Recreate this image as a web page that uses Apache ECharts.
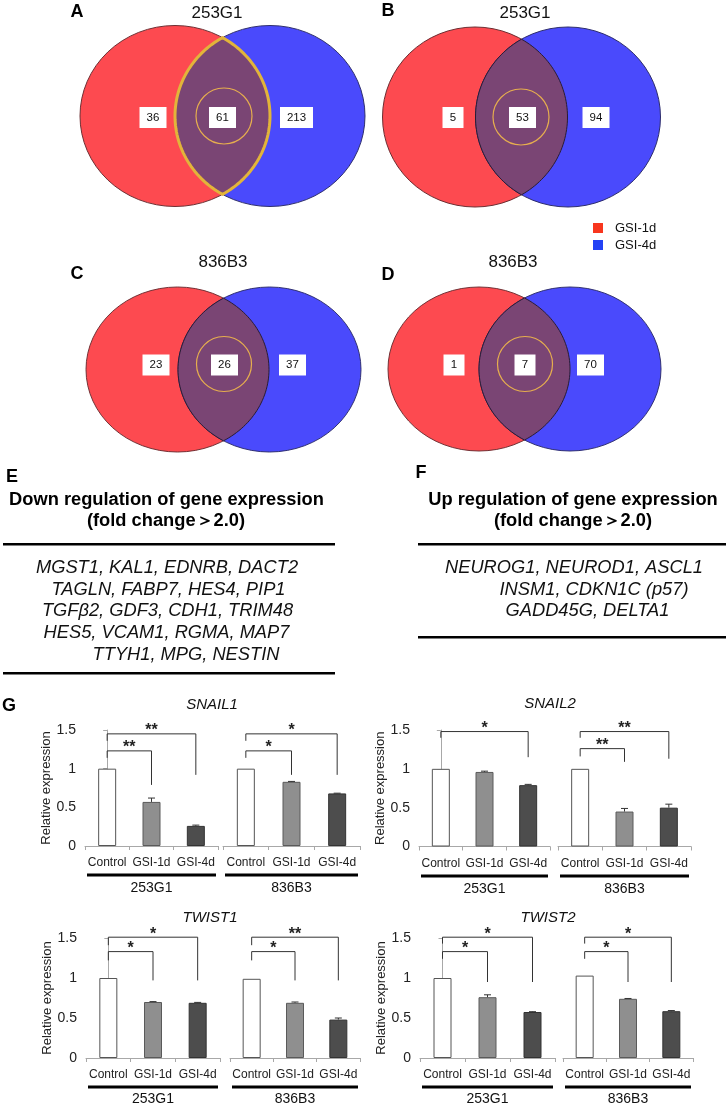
<!DOCTYPE html>
<html><head><meta charset="utf-8">
<script src="https://cdn.jsdelivr.net/npm/echarts@6/dist/echarts.min.js"></script>
<style>html,body{margin:0;padding:0;background:#fff}#c{width:726px;height:1103px}</style>
</head><body><div id="c"></div>
<script>
// ---------- DATA ----------
const vennLetters = ['A', 'B', 'C', 'D'];
const vennTitles = ['253G1', '253G1', '836B3', '836B3'];
const vennOnly1d = [36, 5, 23, 1];
const vennBoth = [61, 53, 26, 7];
const vennOnly4d = [213, 94, 37, 70];
const legendNames = ['GSI-1d', 'GSI-4d'];

const downTitle = 'Down regulation of gene expression';
const upTitle = 'Up regulation of gene expression';
const foldText = '(fold change\uFF1E2.0)';
const downGenes = ['MGST1, KAL1, EDNRB, DACT2', 'TAGLN, FABP7, HES4, PIP1', 'TGF\u03B22, GDF3, CDH1, TRIM48', 'HES5, VCAM1, RGMA, MAP7', 'TTYH1, MPG, NESTIN'];
const upGenes = ['NEUROG1, NEUROD1, ASCL1', 'INSM1, CDKN1C (p57)', 'GADD45G, DELTA1'];

const categories = ['Control', 'GSI-1d', 'GSI-4d'];
const cellLines = ['253G1', '836B3'];
const geneNames = ['SNAIL1', 'SNAIL2', 'TWIST1', 'TWIST2'];
const yTicks = [0, 0.5, 1, 1.5];

const snail1_253G1 = [1.00, 0.57, 0.26];
const snail1_253G1_err = [0, 0.05, 0.01];
const snail1_836B3 = [1.00, 0.83, 0.68];
const snail1_836B3_err = [0, 0.005, 0.003];
const snail2_253G1 = [1.00, 0.96, 0.79];
const snail2_253G1_err = [0, 0.01, 0.01];
const snail2_836B3 = [1.00, 0.45, 0.50];
const snail2_836B3_err = [0, 0.04, 0.045];
const twist1_253G1 = [1.00, 0.70, 0.69];
const twist1_253G1_err = [0, 0.005, 0.005];
const twist1_836B3 = [0.99, 0.69, 0.48];
const twist1_836B3_err = [0, 0.01, 0.02];
const twist2_253G1 = [1.00, 0.76, 0.575];
const twist2_253G1_err = [0, 0.03, 0.004];
const twist2_836B3 = [1.03, 0.74, 0.585];
const twist2_836B3_err = [0, 0.004, 0.008];

// significance brackets: [fromIdx, toIdx, topY, leftLegEndY, rightLegEndY, stars]
const snail1_253G1_sig = [[0, 2, 1.45, 1.36, 0.92, '**'], [0, 1, 1.23, 1.14, 0.79, '**']];
const snail1_836B3_sig = [[0, 2, 1.45, 1.36, 0.92, '*'], [0, 1, 1.23, 1.14, 0.92, '*']];
const snail2_253G1_sig = [[0, 2, 1.48, 1.40, 1.15, '*']];
const snail2_836B3_sig = [[0, 2, 1.48, 1.40, 1.13, '**'], [0, 1, 1.26, 1.16, 1.09, '**']];
const twist1_253G1_sig = [[0, 2, 1.51, 1.41, 0.97, '*'], [0, 1, 1.33, 1.22, 0.97, '*']];
const twist1_836B3_sig = [[0, 2, 1.51, 1.41, 0.97, '**'], [0, 1, 1.33, 1.22, 0.97, '*']];
const twist2_253G1_sig = [[0, 2, 1.51, 1.43, 0.95, '*'], [0, 1, 1.33, 1.24, 0.95, '*']];
const twist2_836B3_sig = [[0, 2, 1.51, 1.43, 0.95, '*'], [0, 1, 1.33, 1.24, 0.95, '*']];

// ---------- LAYOUT / STYLE ----------
const FONT = '"Liberation Sans", Arial, Helvetica, sans-serif';
const RED = '#fd4a50', BLUE = '#4a4afc', MIX = '#7a4574';
const vennGeom = [
  {red: 175, blue: 270, cy: 116, rx: 95, ry: 90.5, boxY: 117.5, boxX: [153, 222.5, 296.5], title: [217, 13], letter: [77, 12], inner: [224, 116, 28], hl: true},
  {red: 475, blue: 568, cy: 117, rx: 92.5, ry: 90, boxY: 117.5, boxX: [453, 522.5, 596], title: [525, 13], letter: [388, 11], inner: [521, 117, 28], hl: false},
  {red: 177.5, blue: 269.5, cy: 369.5, rx: 91.5, ry: 82.5, boxY: 365, boxX: [156, 224.5, 292.5], title: [223, 262], letter: [77, 274], inner: [224, 364, 27.5], hl: false},
  {red: 479, blue: 570, cy: 369, rx: 91, ry: 82, boxY: 365, boxX: [454, 525, 590.5], title: [513, 262], letter: [388, 275], inner: [525, 364, 27.5], hl: false}
];

const panels = [
  {title: [212, 705], top: 730, bottom: 846, subs: [[85, 218], [223, 360]], under: 875, group: 888,
   vals: [snail1_253G1, snail1_836B3], errs: [snail1_253G1_err, snail1_836B3_err], sig: [snail1_253G1_sig, snail1_836B3_sig]},
  {title: [550, 704], top: 730, bottom: 846.5, subs: [[419, 550], [558, 691]], under: 876, group: 889,
   vals: [snail2_253G1, snail2_836B3], errs: [snail2_253G1_err, snail2_836B3_err], sig: [snail2_253G1_sig, snail2_836B3_sig]},
  {title: [210, 918], top: 938, bottom: 1058, subs: [[86, 220], [230, 360]], under: 1087, group: 1099,
   vals: [twist1_253G1, twist1_836B3], errs: [twist1_253G1_err, twist1_836B3_err], sig: [twist1_253G1_sig, twist1_836B3_sig]},
  {title: [548, 918], top: 938, bottom: 1058, subs: [[420, 555], [563, 693]], under: 1087, group: 1099,
   vals: [twist2_253G1, twist2_836B3], errs: [twist2_253G1_err, twist2_836B3_err], sig: [twist2_253G1_sig, twist2_836B3_sig]}
];
const barFill = ['#ffffff', '#8f8f8f', '#4d4d4d'];
const barBorder = ['#555555', '#5a5a5a', '#333333'];

// ---------- GRAPHIC HELPERS ----------
const G = [];
function txt(x, y, text, font, align, color) {
  G.push({type: 'text', x: x, y: y, z: 10, silent: true,
    style: {text: text, font: font, fill: color || '#111', align: align || 'center', verticalAlign: 'middle',
            textAlign: align || 'center', textVerticalAlign: 'middle'}});
}
function rect(x, y, w, h, fill, z) {
  G.push({type: 'rect', z: z || 10, silent: true, shape: {x: x, y: y, width: w, height: h}, style: {fill: fill}});
}

// Venn diagrams
vennGeom.forEach((g, i) => {
  const k = g.ry / g.rx;
  G.push({type: 'circle', z: 1, x: g.red, y: g.cy, scaleY: k, shape: {cx: 0, cy: 0, r: g.rx}, style: {fill: RED, stroke: '#6a2c30', lineWidth: 1}});
  G.push({type: 'circle', z: 1, x: g.blue, y: g.cy, scaleY: k, shape: {cx: 0, cy: 0, r: g.rx}, style: {fill: BLUE, stroke: '#2c2c6a', lineWidth: 1}});
  const d = g.blue - g.red, th = Math.acos((d / 2) / g.rx), pts = [], N = 60;
  for (let j = 0; j <= N; j++) { const a = -th + 2 * th * j / N; pts.push([g.red + g.rx * Math.cos(a), g.cy + k * g.rx * Math.sin(a)]); }
  for (let j = 0; j <= N; j++) { const a = Math.PI - th + 2 * th * j / N; pts.push([g.blue + g.rx * Math.cos(a), g.cy + k * g.rx * Math.sin(a)]); }
  G.push({type: 'polygon', z: 2, shape: {points: pts}, style: {fill: MIX, stroke: g.hl ? '#e2b43a' : '#2a1c34', lineWidth: g.hl ? 3 : 1}});
  G.push({type: 'circle', z: 3, shape: {cx: g.inner[0], cy: g.inner[1], r: g.inner[2]}, style: {fill: null, stroke: '#e6ae4e', lineWidth: 1.2}});
  const nums = [vennOnly1d[i], vennBoth[i], vennOnly4d[i]];
  nums.forEach((n, m) => {
    const s = String(n), w = 15 + 6 * s.length;
    rect(g.boxX[m] - w / 2, g.boxY - 10.5, w, 21, '#ffffff', 4);
    txt(g.boxX[m], g.boxY, s, '11.5px ' + FONT, 'center', '#111');
  });
  txt(g.title[0], g.title[1], vennTitles[i], '17px ' + FONT, 'center', '#111');
  txt(g.letter[0], g.letter[1], vennLetters[i], 'bold 18px ' + FONT, 'center', '#000');
});
// legend
rect(593, 223, 10, 10, '#f8361e', 5);
rect(593, 240, 10, 10, '#2342f5', 5);
txt(615, 228, legendNames[0], '13px ' + FONT, 'left', '#111');
txt(615, 245, legendNames[1], '13px ' + FONT, 'left', '#111');

// E / F text tables
txt(12, 477, 'E', 'bold 18px ' + FONT, 'center', '#000');
txt(166.5, 500, downTitle, 'bold 18.3px ' + FONT, 'center', '#000');
txt(166, 521, foldText, 'bold 18.3px ' + FONT, 'center', '#000');
rect(3, 543, 332, 2.5, '#000');
const downX = [167, 168.5, 167.5, 166.5, 186];
const downY = [568, 590, 611, 633, 655];
downGenes.forEach((s, i) => txt(downX[i], downY[i], s, 'italic 18.3px ' + FONT, 'center', '#111'));
rect(3, 672, 332, 2.5, '#000');

txt(421, 473, 'F', 'bold 18px ' + FONT, 'center', '#000');
txt(573, 500, upTitle, 'bold 18.3px ' + FONT, 'center', '#000');
txt(573, 521, foldText, 'bold 18.3px ' + FONT, 'center', '#000');
rect(418, 543, 308, 2.5, '#000');
const upX = [574, 594, 587.5];
const upY = [568, 590, 611];
upGenes.forEach((s, i) => txt(upX[i], upY[i], s, 'italic 18.3px ' + FONT, 'center', '#111'));
rect(418, 636, 308, 2.5, '#000');

txt(9, 706, 'G', 'bold 18px ' + FONT, 'center', '#000');

// ---------- CHARTS ----------
const grid = [], xAxis = [], yAxis = [], series = [];
panels.forEach((p, pi) => {
  txt(p.title[0], p.title[1], geneNames[pi], 'italic 15px ' + FONT, 'center', '#111');
  p.subs.forEach((s, si) => {
    const k = grid.length;
    grid.push({left: s[0], top: p.top, width: s[1] - s[0], height: p.bottom - p.top, containLabel: false, outerBoundsMode: 'none'});
    xAxis.push({type: 'category', gridIndex: k, data: categories,
      axisLine: {lineStyle: {color: '#a8a8a8', width: 1}},
      axisTick: {show: true, length: 4, lineStyle: {color: '#a8a8a8'}},
      axisLabel: {color: '#222', fontSize: 12, fontFamily: FONT, margin: 11, interval: 0},
      splitLine: {show: false}});
    xAxis.push({type: 'value', gridIndex: k, min: -0.5, max: 2.5, show: false});
    yAxis.push({type: 'value', gridIndex: k, min: 0, max: 1.5, interval: 0.5, show: si === 0,
      name: si === 0 ? 'Relative expression' : '', nameLocation: 'middle', nameRotate: 90, nameGap: 31,
      nameTextStyle: {color: '#222', fontSize: 13, fontFamily: FONT},
      axisLine: {show: true, lineStyle: {color: '#a8a8a8'}},
      axisTick: {show: true, length: 4, lineStyle: {color: '#a8a8a8'}},
      axisLabel: {color: '#222', fontSize: 14, fontFamily: FONT, margin: 9},
      splitLine: {show: false}});
    const vals = p.vals[si], errs = p.errs[si];
    series.push({type: 'bar', xAxisIndex: 2 * k, yAxisIndex: k, barWidth: 18, z: 3,
      data: vals.map((v, i) => ({value: v, itemStyle: {color: barFill[i], borderColor: barBorder[i], borderWidth: 1}}))});
    series.push({type: 'custom', xAxisIndex: 2 * k + 1, yAxisIndex: k, z: 4, clip: false,
      data: vals.map((v, i) => [i, v, errs[i]]),
      renderItem: (params, api) => {
        const e = api.value(2);
        if (!e) return {type: 'group', children: []};
        const p0 = api.coord([api.value(0), api.value(1)]), p1 = api.coord([api.value(0), api.value(1) + e]);
        return {type: 'group', children: [
          {type: 'line', shape: {x1: p0[0], y1: p0[1], x2: p1[0], y2: p1[1]}, style: {stroke: '#333', lineWidth: 1}},
          {type: 'line', shape: {x1: p1[0] - 3.5, y1: p1[1], x2: p1[0] + 3.5, y2: p1[1]}, style: {stroke: '#333', lineWidth: 1}}]};
      }});
    p.sig[si].forEach(b => {
      series.push({type: 'line', xAxisIndex: 2 * k + 1, yAxisIndex: k, clip: false, symbol: 'none', silent: true, z: 5,
        lineStyle: {color: '#333', width: 1}, data: [[b[0], b[3]], [b[0], b[2]], [b[1], b[2]], [b[1], b[4]]]});
    });
    const sig = p.sig[si];
    series.push({type: 'custom', xAxisIndex: 2 * k + 1, yAxisIndex: k, z: 6, clip: false,
      data: sig.map(b => [(b[0] + b[1]) / 2, b[2]]),
      renderItem: (params, api) => {
        const c = api.coord([api.value(0), api.value(1)]);
        const t = sig[params.dataIndex][5];
        return {type: 'text', x: c[0], y: c[1] - 3,
          style: {text: t, font: 'bold 16px ' + FONT, fill: '#222', align: 'center', verticalAlign: 'middle', textAlign: 'center', textVerticalAlign: 'middle'}};
      }});
    // group underline and cell line label
    rect(s[0] + 2, p.under - 1.5, s[1] - s[0] - 4, 3, '#000');
    txt((s[0] + s[1]) / 2, p.group, cellLines[si], '14px ' + FONT, 'center', '#111');
  });
});

const chart = echarts.init(document.getElementById('c'), null, {renderer: 'canvas'});
chart.setOption({animation: false, backgroundColor: '#ffffff', grid: grid, xAxis: xAxis, yAxis: yAxis, series: series, graphic: {elements: G}});
</script></body></html>
